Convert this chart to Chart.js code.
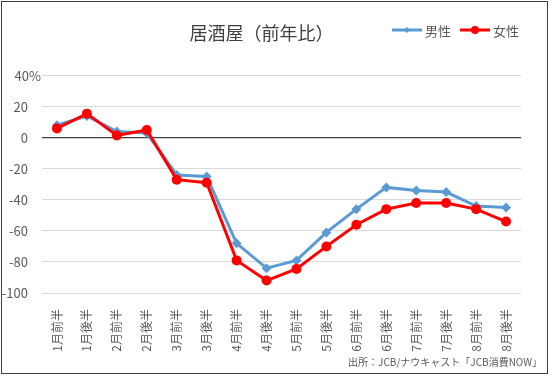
<!DOCTYPE html>
<html>
<head>
<meta charset="utf-8">
<title>居酒屋（前年比）</title>
<script src="https://cdn.jsdelivr.net/npm/chart.js"></script>
<style>
    body { margin: 0; background: #fff; }
    #frame { position: absolute; left: 1px; top: 1px; width: 545px; height: 371px; border: 1px solid #404040; }
</style>
</head>
<body>
<div id="frame"><canvas id="chart" width="545" height="371"></canvas></div>
<script>
    // 居酒屋の消費 前年比（%）
    const xlabels = ['1月前半', '1月後半', '2月前半', '2月後半', '3月前半', '3月後半', '4月前半', '4月後半',
        '5月前半', '5月後半', '6月前半', '6月後半', '7月前半', '7月後半', '8月前半', '8月後半'];
    const maleValues = [8, 14, 4, 3, -24, -25, -68, -84, -79, -61, -46, -32, -34, -35, -44, -45];
    const femaleValues = [6, 15.5, 1.5, 5, -27, -29, -79, -92, -84.5, -70, -56, -46, -42, -42, -46, -54];
    const yTicks = [40, 20, 0, -20, -40, -60, -80, -100];
    const titleText = '居酒屋（前年比）';
    const sourceText = '出所：JCB/ナウキャスト「JCB消費NOW」';

    const FONT = "'Noto Sans CJK JP', 'Noto Sans', sans-serif";
    const TEXT = '#595959';

    // 凡例と出所をタイトルと同じ行に描く
    const extras = {
        id: 'extras',
        afterDraw(chart) {
            const ctx = chart.ctx;
            ctx.save();
            ctx.font = '13px ' + FONT;
            ctx.textBaseline = 'middle';
            let x = 390;
            const y = 28;
            chart.data.datasets.forEach(ds => {
                ctx.strokeStyle = ds.borderColor;
                ctx.lineWidth = 3;
                ctx.beginPath();
                ctx.moveTo(x, y);
                ctx.lineTo(x + 30, y);
                ctx.stroke();
                ctx.fillStyle = ds.borderColor;
                ctx.beginPath();
                if (ds.pointStyle === 'rectRot') {
                    ctx.moveTo(x + 15, y - 3);
                    ctx.lineTo(x + 18, y);
                    ctx.lineTo(x + 15, y + 3);
                    ctx.lineTo(x + 12, y);
                } else {
                    ctx.arc(x + 15, y, 4, 0, Math.PI * 2);
                }
                ctx.fill();
                ctx.fillStyle = TEXT;
                ctx.textAlign = 'left';
                ctx.fillText(ds.label, x + 33, y + 1);
                x += 68;
            });
            ctx.font = '10px ' + FONT;
            ctx.textAlign = 'right';
            ctx.fillText(sourceText, 540, 360);
            ctx.restore();
        }
    };

    new Chart(document.getElementById('chart'), {
        type: 'line',
        data: {
            labels: xlabels,
            datasets: [{
                label: '男性',
                data: maleValues,
                borderColor: '#5B9BD5',
                backgroundColor: '#5B9BD5',
                borderWidth: 3,
                pointStyle: 'rectRot',
                pointRadius: 5,
                pointBorderWidth: 0,
                order: 1
            }, {
                label: '女性',
                data: femaleValues,
                borderColor: '#FF0000',
                backgroundColor: '#FF0000',
                borderWidth: 3,
                pointStyle: 'circle',
                pointRadius: 5,
                pointBorderWidth: 0,
                order: 0
            }]
        },
        options: {
            responsive: false,
            animation: false,
            layout: { padding: { left: 0, right: 26, top: 0, bottom: 20 } },
            plugins: {
                legend: { display: false },
                tooltip: { enabled: false },
                title: {
                    display: true,
                    text: titleText,
                    color: '#404040',
                    font: { family: FONT, size: 18, weight: 'normal' },
                    padding: { top: 20, bottom: 32 }
                }
            },
            scales: {
                x: {
                    offset: true,
                    grid: { display: false },
                    border: { display: false },
                    ticks: {
                        color: TEXT,
                        font: { family: FONT, size: 12 },
                        minRotation: 90,
                        maxRotation: 90,
                        padding: 8,
                        autoSkip: false
                    },
                    afterFit(scale) { scale.height = 60; }
                },
                y: {
                    min: -100,
                    max: 40,
                    afterBuildTicks(scale) { scale.ticks = yTicks.map(v => ({ value: v })); },
                    grid: {
                        drawTicks: false,
                        color: c => c.tick.value === 0 ? '#404040' : '#D9D9D9',
                        lineWidth: c => c.tick.value === 0 ? 1.3 : 1
                    },
                    border: { display: false },
                    ticks: {
                        color: TEXT,
                        font: { family: FONT, size: 13 },
                        padding: 1,
                        callback: v => v === 40 ? '40%' : v + '\u2003'
                    },
                    afterFit(scale) { scale.width = 40; }
                }
            }
        },
        plugins: [extras]
    });
</script>
</body>
</html>
